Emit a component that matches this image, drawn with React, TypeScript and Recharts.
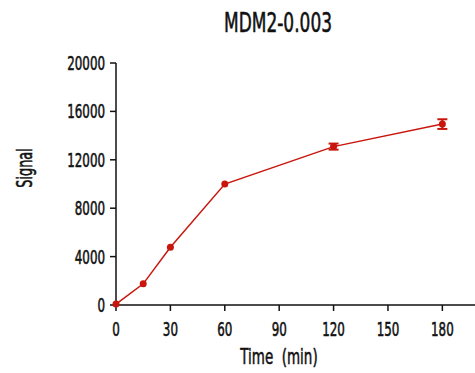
import { ErrorBar, Line, LineChart, XAxis, YAxis } from "recharts";

const times = [0, 15, 30, 60, 120, 180];
const signal = [80, 1750, 4770, 9990, 13090, 14950];
const signalErr = [0, 0, 0, 0, 250, 400];

const xTicks = [0, 30, 60, 90, 120, 150, 180];
const yTicks = [0, 4000, 8000, 12000, 16000, 20000];

const RED = "#c8160c";
const INK = "#111";
const FONT = "'DejaVu Sans Condensed', 'DejaVu Sans', sans-serif";
const SQUEEZE = 0.66;
// a thin outline thickens the regular face a little, bold is too heavy
const HEFT = { stroke: INK, strokeWidth: 0.55 };

const rows = times.map((t, i) => ({ t, y: signal[i], err: signalErr[i] }));

function YTick({ x, y, payload }: any) {
  return (
    <g transform={`translate(${x},${y})`}>
      <text transform={`scale(${SQUEEZE},1)`} textAnchor="end" dy={7} fill={INK} fontSize={20} fontFamily={FONT} {...HEFT}>
        {payload.value}
      </text>
    </g>
  );
}

function XTick({ x, y, payload }: any) {
  return (
    <g transform={`translate(${x},${y})`}>
      <text transform={`scale(${SQUEEZE},1)`} textAnchor="middle" dy={17} fill={INK} fontSize={20} fontFamily={FONT} {...HEFT}>
        {payload.value}
      </text>
    </g>
  );
}

export default function App() {
  return (
    <div style={{ position: "absolute", left: 0, top: 0, width: 475, height: 373, background: "#fff" }}>
      <LineChart width={475} height={373} data={rows} margin={{ top: 63, right: 0, bottom: 0, left: 0 }}>
        <XAxis
          dataKey="t"
          type="number"
          domain={[0, 198]}
          ticks={xTicks}
          height={68}
          stroke={INK}
          strokeWidth={1.5}
          tickSize={6}
          tickMargin={8}
          tick={<XTick />}
        />
        <YAxis
          type="number"
          domain={[0, 20000]}
          ticks={yTicks}
          width={116}
          stroke={INK}
          strokeWidth={1.5}
          tickSize={6}
          tickMargin={5}
          tick={<YTick />}
        />
        <Line
          dataKey="y"
          stroke={RED}
          strokeWidth={1.5}
          dot={{ r: 3.5, fill: RED, stroke: RED, strokeWidth: 0 }}
          isAnimationActive={false}
        >
          <ErrorBar dataKey="err" direction="y" width={5} stroke={RED} strokeWidth={2} />
        </Line>
      </LineChart>
      <svg width={475} height={373} style={{ position: "absolute", left: 0, top: 0, pointerEvents: "none" }}>
        <text transform="translate(278,32) scale(0.7,1)" textAnchor="middle" fontSize={27} fontFamily={FONT} fill={INK} {...HEFT}>
          MDM2-0.003
        </text>
        <text transform="translate(279,364) scale(0.68,1)" textAnchor="middle" fontSize={22} fontFamily={FONT} fill={INK} {...HEFT}>
          {"Time\u00a0 (min)"}
        </text>
        <text transform="translate(32,168) rotate(-90) scale(0.68,1)" textAnchor="middle" fontSize={21} fontFamily={FONT} fill={INK} {...HEFT}>
          Signal
        </text>
      </svg>
    </div>
  );
}
